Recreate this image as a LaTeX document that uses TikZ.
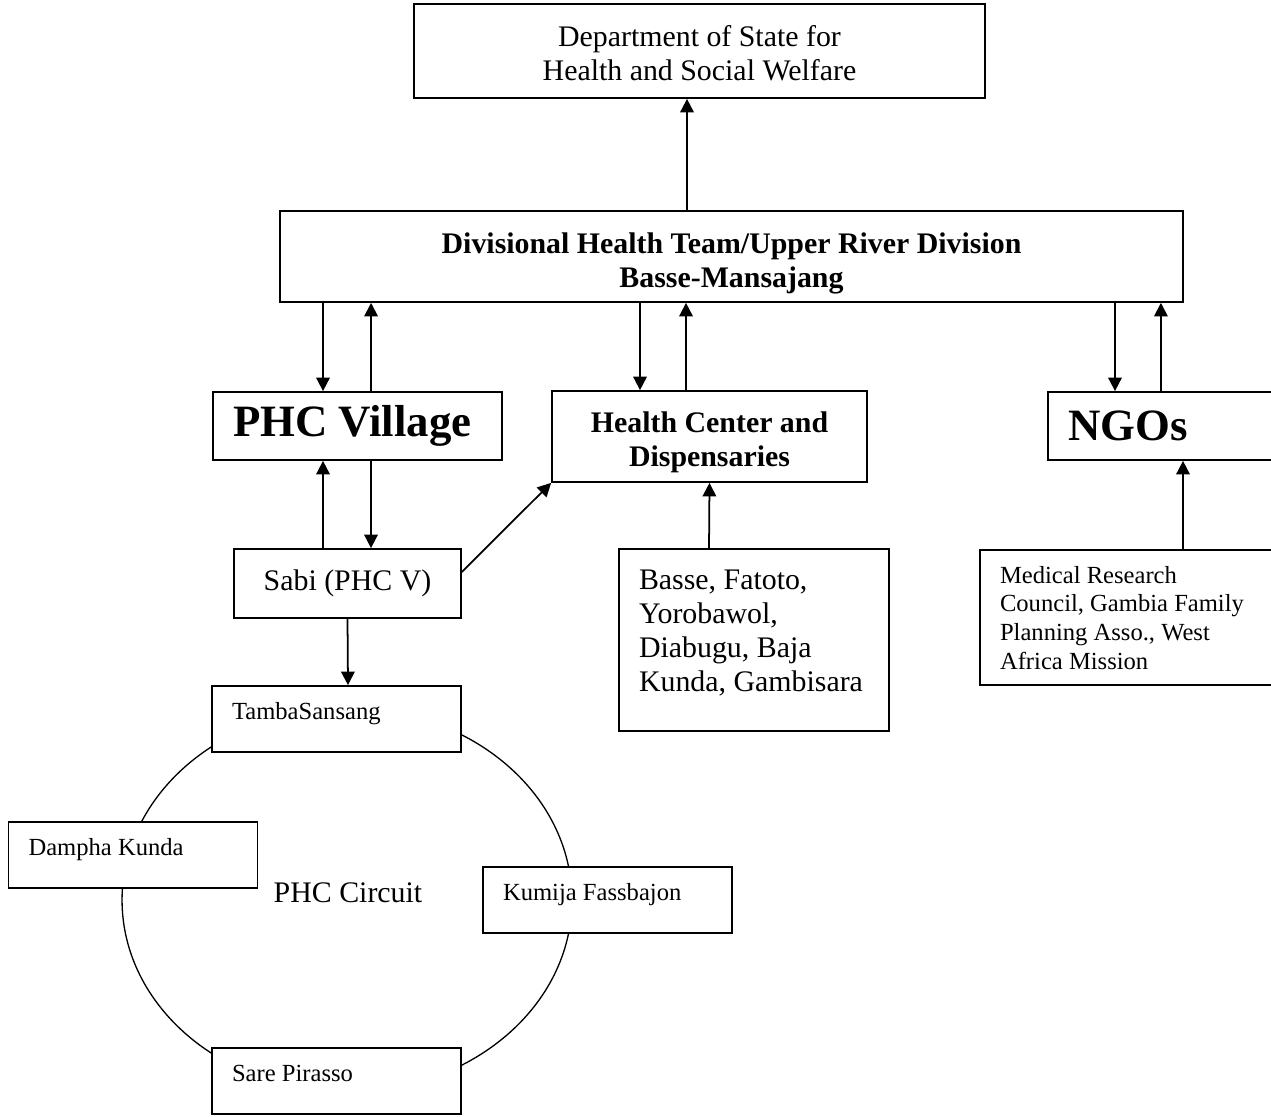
\documentclass[tikz,border=0pt]{standalone}
\usepackage{fontspec}
\setmainfont{Liberation Serif}
\usetikzlibrary{arrows.meta}
\begin{document}
\begin{tikzpicture}
[
 x=0.02cm, y=-0.02cm,
 inner sep=0mm,
 BOX/.style={rectangle, draw=black, fill=white, line width=1pt, inner xsep=0.4cm, inner ysep=0.2cm},
 TXT/.style={font=\fontsize{17}{19.5}\selectfont},
 BTXT/.style={font=\fontsize{17}{19.5}\selectfont\bfseries},
 BIGTXT/.style={font=\fontsize{25.5}{29}\selectfont\bfseries},
 SMALLTXT/.style={font=\fontsize{14}{16.4}\selectfont},
 SMALLBOX/.style={BOX, SMALLTXT, minimum height=1.32cm, text width=4.18cm, align=flush left, text height=0.46cm, text depth=0.46cm},
 ARROW/.style={line width=1pt, -{Triangle[length=0.27cm, width=0.27cm]}},
 RING/.style={line width=0.75pt},
 ]
%
\useasboundingbox (0,0) rectangle (1271,1116);
\clip (0,0) rectangle (1271,1116);
%
\draw [RING] (347,900) ellipse [x radius=4.5cm, y radius=3.84cm];
\node [TXT] (CIRCUIT) at (348,893) {PHC Circuit};
%
\node [BOX, TXT, text width=10.62cm, align=flush center, text height=0.64cm, text depth=0.84cm]  (DEPT) at (699.5,51)  {Department of State for\\Health and Social Welfare};
\node [BOX, BTXT, text width=17.26cm, align=flush center, text height=0.65cm, text depth=0.77cm] (DIV)  at (731.5,256.5) {Divisional Health Team/Upper River Division\\Basse-Mansajang};
%
\node [BOX, BIGTXT, text width=4.98cm, align=flush left, minimum height=1.36cm] (PHCV) at (357.5,426)   {PHC Village};
\node [BOX, BTXT, text width=5.5cm, align=flush center, text height=0.62cm, text depth=0.8cm] (HC)   at (709.5,436.5) {Health Center and\\Dispensaries};
\node [BOX, BIGTXT, text width=3.76cm, align=flush left, minimum height=1.36cm] (NGO)  at (1162,426)    {NGOs};
%
\node [BOX, TXT, align=center, minimum width=4.54cm, minimum height=1.38cm] (SABI) at (347.5,583.5) {Sabi (PHC V)};
\node [BOX, TXT, text width=4.6cm, align=flush left, text height=0.6cm, text depth=2.64cm] (BASSE) at (754,640)
      {Basse, Fatoto,\\Yorobawol,\\Diabugu, Baja\\Kunda, Gambisara};
\node [BOX, SMALLTXT, text width=5.1cm, align=flush left, text height=0.46cm, text depth=1.84cm] (MRC) at (1127.5,617.5)
      {Medical Research\\Council, Gambia Family\\Planning Asso., West\\Africa Mission};
%
\node [SMALLBOX] (TAMBA)  at (336.5,719)  {TambaSansang};
\node [SMALLBOX] (DAMPHA) at (133,855)    {Dampha Kunda};
\node [SMALLBOX] (KUMIJA) at (607.5,900)  {Kumija Fassbajon};
\node [SMALLBOX] (SARE)   at (336.5,1081) {Sare Pirasso};
%
\draw [ARROW] ([xshift=-0.89cm]DIV.north)  -- ([xshift=-0.25cm]DEPT.south);
%
\draw [ARROW] ([xshift=-8.17cm]DIV.south)  -- ([xshift=-0.69cm]PHCV.north);
\draw [ARROW] ([xshift=0.27cm]PHCV.north)  -- ([xshift=-7.21cm]DIV.south);
\draw [ARROW] ([xshift=-1.83cm]DIV.south)  -- ([xshift=-1.39cm]HC.north);
\draw [ARROW] ([xshift=-0.47cm]HC.north)   -- ([xshift=-0.91cm]DIV.south);
\draw [ARROW] ([xshift=7.67cm]DIV.south)   -- ([xshift=-0.94cm]NGO.north);
\draw [ARROW] ([xshift=-0.02cm]NGO.north)  -- ([xshift=8.59cm]DIV.south);
%
\draw [ARROW] ([xshift=-0.49cm]SABI.north) -- ([xshift=-0.69cm]PHCV.south);
\draw [ARROW] ([xshift=0.27cm]PHCV.south)  -- ([xshift=0.47cm]SABI.north);
\draw [ARROW] ([yshift=0.23cm]SABI.east)   -- (HC.south west);
\draw [ARROW] (SABI.south)                 -- ([xshift=0.23cm]TAMBA.north);
%
\draw [ARROW] ([xshift=-0.9cm]BASSE.north) -- (HC.south);
\draw [ARROW] ([xshift=1.11cm]MRC.north)   -- ([xshift=0.42cm]NGO.south);
\end{tikzpicture}
\end{document}
